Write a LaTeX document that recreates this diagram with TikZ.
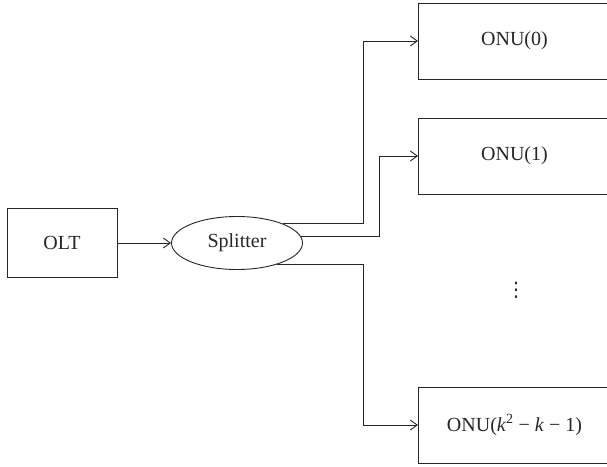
\documentclass[tikz,border=0pt]{standalone}
\usepackage{fontspec}
\setmainfont{Liberation Serif}
\newfontfamily\symfont{DejaVu Sans}
\usetikzlibrary{arrows.meta,shapes.geometric,calc}
\begin{document}
\begin{tikzpicture}[x=1pt,y=-1pt,
  line width=0.9pt, draw=black!85,
  every node/.style={font=\fontsize{20}{24}\selectfont, text=black!85},
  box/.style={draw, rectangle, inner sep=0pt},
  onubox/.style={box, minimum width=192pt, minimum height=76pt, anchor=west},
  conn/.style={-{Straight Barb[length=7pt,width=10pt]}}
]
\useasboundingbox (0,0) rectangle (607,466);
\clip (0,0) rectangle (607,466);
\node[box, minimum width=110pt, minimum height=69pt] (olt) at (62,243) {OLT};
\node[draw, ellipse, minimum width=131pt, minimum height=53pt, inner sep=0pt] (spl) at (237,243) {Splitter};
\node[onubox] (onu0) at (418,41) {ONU(0)};
\node[onubox] (onu1) at (418,156) {ONU(1)};
\node[onubox] (onu2) at (418,425) {ONU(\textit{k}\textsuperscript{2} − \textit{k} − 1)};
\node[inner sep=0pt, font=\symfont\fontsize{20}{24}\selectfont] (dots) at (516,290) {⋮};
\coordinate (b0) at (363,41);
\coordinate (b1) at (379,156);
\coordinate (b2) at (363,425);
\draw[conn] (olt.east) -- (spl.west);
\draw[conn] (spl.23) -| (b0) |- (onu0.west);
\draw[conn] (spl.6.4) -| (b1) |- (onu1.west);
\draw[conn] (spl.-28) -| (b2) |- (onu2.west);
\end{tikzpicture}
\end{document}
